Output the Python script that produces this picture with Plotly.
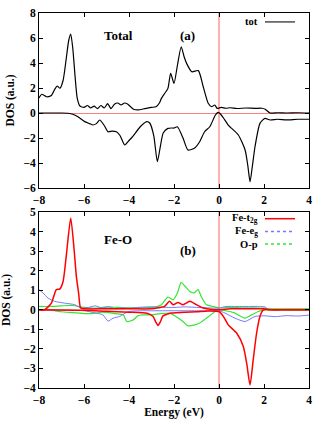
import plotly.graph_objects as go
from plotly.subplots import make_subplots

# Panel (a): total DOS, spin up / spin down
tot_up_e = [-8.0, -7.88, -7.66, -7.45, -7.3, -7.19, -7.07, -6.93, -6.8, -6.68, -6.59, -6.5, -6.4,
            -6.3, -6.18, -6.0, -5.85, -5.7, -5.55, -5.4, -5.25, -5.1, -4.95, -4.8, -4.65, -4.5,
            -4.35, -4.2, -4.05, -3.9, -3.8, -3.6, -3.3, -3.0, -2.8, -2.65, -2.56, -2.4, -2.27,
            -2.15, -2.0, -1.85, -1.68, -1.55, -1.44, -1.21, -0.92, -0.7, -0.48, -0.33, -0.19,
            -0.08, 0.1, 0.3, 0.5, 0.8, 1.2, 1.6, 1.9, 2.05, 2.27, 2.6, 3.0, 3.5, 4.0]
tot_up = [1.2, 1.5, 1.3, 1.4, 1.9, 2.16, 1.98, 2.6, 4.2, 5.8, 6.32, 5.2, 3.0,
          1.17, 0.56, 0.45, 0.6, 0.4, 0.55, 0.35, 0.6, 0.4, 0.75, 0.35, 0.7, 0.8,
          0.65, 0.8, 0.7, 0.45, 0.3, 0.25, 0.35, 0.45, 0.5, 0.8, 1.17, 1.6, 1.97,
          3.17, 2.37, 3.8, 5.3, 4.5, 3.97, 3.3, 3.39, 2.1, 0.78, 0.5, 0.64,
          0.37, 0.45, 0.38, 0.42, 0.36, 0.4, 0.37, 0.38, 0.3, 0.0, 0.02, 0.0, 0.02, 0.0]

tot_dn_e = [-8.0, -7.5, -7.0, -6.7, -6.5, -6.27, -5.97, -5.75, -5.6, -5.45, -5.3, -5.1, -4.93,
            -4.75, -4.56, -4.4, -4.19, -4.0, -3.82, -3.5, -3.21, -3.08, -2.9, -2.74, -2.6,
            -2.48, -2.27, -2.1, -2.0, -1.85, -1.6, -1.38, -1.08, -0.86, -0.64, -0.41, -0.16,
            -0.04, 0.02, 0.2, 0.41, 0.86, 1.16, 1.28, 1.38, 1.48, 1.6, 1.82, 2.04, 2.27, 2.6,
            3.0, 3.5, 4.0]
tot_dn = [0.0, 0.0, 0.0, -0.02, -0.1, -0.3, -0.69, -0.85, -0.96, -0.85, -0.56, -1.0, -1.5,
          -1.45, -1.5, -1.8, -2.56, -2.2, -1.84, -1.1, -0.69, -0.8, -1.8, -3.9, -2.6,
          -1.6, -1.23, -1.2, -1.2, -1.1, -2.0, -2.96, -2.8, -2.3, -1.5, -1.1, -0.16,
          0.05, 0.0, -0.4, -0.96, -1.76, -2.96, -4.2, -5.5, -4.3, -2.7, -0.83, -0.43, -0.56, -0.5,
          -0.55, -0.5, -0.5]

# Panel (b): Fe-O projected DOS
t2g_up_e = [-8.0, -7.75, -7.45, -7.23, -7.08, -6.93, -6.79, -6.59, -6.44, -6.34, -6.24, -6.15,
            -6.0, -5.0, -4.0, -3.0, -2.7, -2.42, -2.2, -2.04, -1.82, -1.6, -1.3, -1.01, -0.71,
            -0.4, 0.0, 0.5, 1.0, 1.5, 2.0, 2.2, 3.0, 4.0]
t2g_up = [0.0, 0.0, 0.34, 1.03, 1.06, 1.45, 2.73, 4.7, 3.08, 1.71, 0.86, 0.09,
          0.05, 0.05, 0.05, 0.05, 0.1, 0.17, 0.43, 0.26, 0.37, 0.26, 0.43, 0.26, 0.09,
          0.03, 0.0, 0.05, 0.05, 0.05, 0.05, 0.0, 0.0, 0.0]

t2g_dn_e = [-8.0, -6.0, -5.0, -4.0, -3.2, -2.93, -2.82, -2.71, -2.6, -2.49, -2.3, -2.12, -1.5,
            -1.0, -0.5, 0.0, 0.2, 0.41, 0.79, 1.08, 1.23, 1.38, 1.52, 1.67, 1.82, 1.97, 2.5,
            3.0, 4.0]
t2g_dn = [0.0, -0.03, -0.08, -0.12, -0.18, -0.34, -0.6, -0.8, -0.6, -0.31, -0.22, -0.17, -0.12,
          -0.1, -0.06, -0.09, -0.35, -0.77, -1.2, -1.88, -2.73, -3.85, -2.56, -1.2, -0.34, 0.0, 0.0,
          0.0, 0.0]

eg_up_e = [-8.0, -7.82, -7.6, -7.3, -6.86, -6.41, -6.12, -5.8, -5.5, -5.2, -4.9, -4.6, -4.3,
           -4.0, -3.5, -3.0, -2.5, -2.0, -1.5, -1.0, -0.5, 0.0, 0.3, 0.8, 1.3, 1.8, 2.04, 2.2,
           3.0, 4.0]
eg_up = [1.03, 0.86, 0.6, 0.43, 0.34, 0.26, 0.09, 0.12, 0.2, 0.1, 0.15, 0.05, 0.1,
         0.08, 0.13, 0.15, 0.13, 0.12, 0.15, 0.12, 0.1, 0.08, 0.17, 0.17, 0.17, 0.17, 0.15, 0.02,
         0.02, 0.02]

eg_dn_e = [-8.0, -6.5, -6.0, -5.46, -5.16, -4.93, -4.71, -4.41, -4.04, -3.5, -3.0, -2.0, -1.0,
           -0.3, 0.0, 0.27, 0.71, 1.16, 1.6, 2.04, 2.5, 3.0, 3.5, 4.0]
eg_dn = [0.0, -0.02, -0.05, -0.17, -0.26, -0.58, -0.43, -0.34, -0.09, -0.05, -0.05, -0.05, -0.05,
         -0.05, -0.05, -0.17, -0.43, -0.6, -0.34, -0.31, -0.35, -0.3, -0.32, -0.27]

op_up_e = [-8.0, -7.5, -7.0, -6.5, -6.0, -5.5, -5.0, -4.5, -4.0, -3.5, -3.0, -2.8, -2.56, -2.27,
           -2.04, -1.85, -1.68, -1.53, -1.3, -1.11, -0.93, -0.79, -0.56, -0.27, 0.0, 0.5, 1.0,
           1.5, 2.0, 2.2, 3.0, 4.0]
op_up = [0.17, 0.17, 0.2, 0.22, 0.12, 0.08, 0.15, 0.12, 0.1, 0.1, 0.12, 0.15, 0.26, 0.65,
         0.51, 0.86, 1.4, 1.23, 0.94, 0.86, 1.03, 0.68, 0.26, 0.17, 0.1, 0.12, 0.1,
         0.1, 0.08, 0.05, 0.05, 0.05]

op_dn_e = [-8.0, -7.5, -7.0, -6.5, -6.18, -5.8, -5.5, -5.2, -4.9, -4.6, -4.25, -4.1, -3.8, -3.6,
           -3.36, -3.0, -2.6, -2.18, -1.97, -1.6, -1.38, -1.08, -0.86, -0.56, -0.27, -0.1, 0.3,
           0.71, 1.16, 1.45, 1.75, 2.0, 3.0, 4.0]
op_dn = [0.0, -0.02, -0.1, -0.15, -0.17, -0.2, -0.17, -0.12, -0.15, -0.2, -0.26, -0.6, -0.51, -0.3,
         -0.26, -0.26, -0.2, -0.17, -0.31, -0.6, -0.82, -0.77, -0.68, -0.43, -0.17, 0.0, -0.05,
         -0.17, -0.43, -0.26, -0.09, 0.0, 0.0, 0.0]

x_ticks = [-8, -6, -4, -2, 0, 2, 4]
y_ticks_a = [-6, -4, -2, 0, 2, 4, 6, 8]
y_ticks_b = [-4, -3, -2, -1, 0, 1, 2, 3, 4, 5]

FONT = "Liberation Serif, Times New Roman, serif"
RED = "#ff0000"
BLUE = "#7878ff"
GREEN = "#33e633"
FERMI = "#ffb0b0"

fig = make_subplots(rows=2, cols=1)


def line(x, y, color, row, width=1.3):
    fig.add_trace(go.Scatter(x=x, y=y, mode="lines", showlegend=False,
                             line=dict(color=color, width=width, shape="spline", smoothing=0.6)),
                  row=row, col=1)


line(tot_up_e, tot_up, "black", 1, 1.2)
line(tot_dn_e, tot_dn, "black", 1, 1.2)
line(op_up_e, op_up, GREEN, 2, 1.2)
line(op_dn_e, op_dn, GREEN, 2, 1.2)
line(eg_up_e, eg_up, BLUE, 2, 1.0)
line(eg_dn_e, eg_dn, BLUE, 2, 1.0)
line(t2g_up_e, t2g_up, RED, 2, 1.5)
line(t2g_dn_e, t2g_dn, RED, 2, 1.5)

tick_font = dict(family=FONT, size=11.5, color="black", weight="bold")
axis_common = dict(showline=True, mirror="ticks", linecolor="black", linewidth=1,
                   ticks="inside", ticklen=4, tickcolor="black", showgrid=False,
                   tickfont=tick_font, automargin=False)

fig.update_xaxes(range=[-8, 4], tickvals=x_ticks, zeroline=True, zerolinecolor=FERMI,
                 zerolinewidth=2, ticklabelstandoff=1, **axis_common)
fig.update_xaxes(title=dict(text="Energy (eV)", font=tick_font, standoff=2), row=2, col=1)
fig.update_yaxes(range=[-6, 8], tickvals=y_ticks_a, zeroline=True, zerolinecolor="#ff7f7f",
                 zerolinewidth=1, domain=[0.5333, 1.0],
                 title=dict(text="DOS (a.u.)", font=tick_font, standoff=6),
                 row=1, col=1, **axis_common)
fig.update_yaxes(range=[-4, 5], tickvals=y_ticks_b, zeroline=False, domain=[0.0, 0.4693],
                 title=dict(text="DOS (a.u.)", font=tick_font, standoff=12),
                 row=2, col=1, **axis_common)

label_font = dict(family=FONT, size=13, color="black", weight="bold")
for ref, txt, px, py in [("", "Total", 0.235, 0.925), ("", "(a)", 0.55, 0.925),
                         ("2", "Fe-O", 0.235, 0.9), ("2", "(b)", 0.55, 0.835)]:
    fig.add_annotation(xref=f"x{ref} domain", yref=f"y{ref} domain", x=px, y=py, text=txt,
                       showarrow=False, font=label_font)

# key entries, text right-aligned with a line sample to its right
legend_font = dict(family=FONT, size=10.5, color="black", weight="bold")
keys = [("", "tot", "#222222", 0.949, None),
        ("2", "Fe-t<sub>2g</sub>", RED, 0.962, None),
        ("2", "Fe-e<sub>g</sub>", BLUE, 0.889, "dot"),
        ("2", "O-p", GREEN, 0.818, "dot")]
for ref, txt, color, ky, dash in keys:
    fig.add_annotation(xref=f"x{ref} domain", yref=f"y{ref} domain", x=0.815, y=ky, text=txt,
                       xanchor="right", yanchor="middle", showarrow=False, font=legend_font,
                       borderpad=0)
    fig.add_shape(type="line", xref=f"x{ref} domain", yref=f"y{ref} domain",
                  x0=0.837, x1=0.948, y0=ky, y1=ky,
                  line=dict(color=color, width=1.5 if ref else 1.2, dash=dash))

fig.update_layout(
    width=332, height=427,
    margin=dict(l=39, r=23, t=13, b=39),
    paper_bgcolor="white", plot_bgcolor="white",
    showlegend=False,
)

# drop the page's default body margin so the figure sits at the window's corner
fig.write_html("out.html", config={"displayModeBar": False},
               post_script="document.body.style.margin='0';")
